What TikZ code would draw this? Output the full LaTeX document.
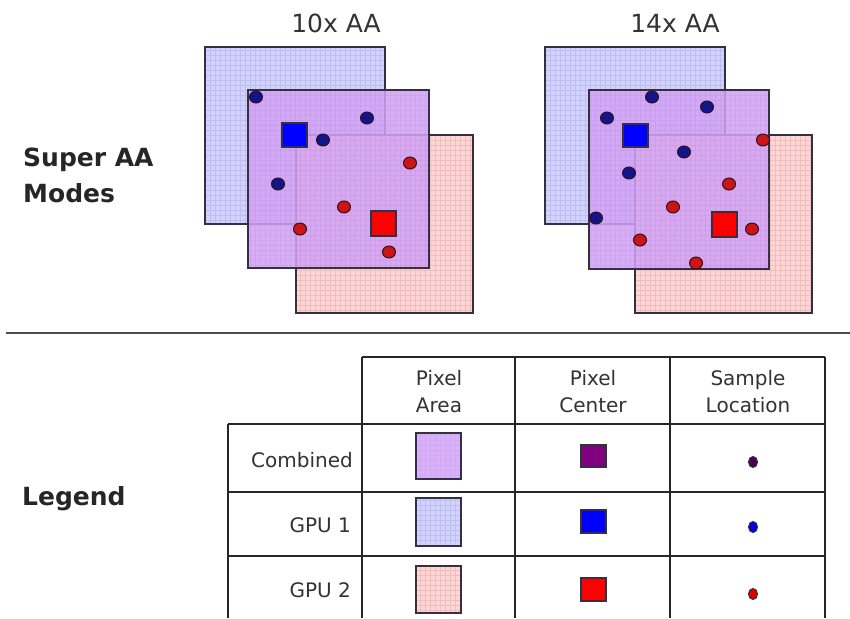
\documentclass[tikz,border=0pt]{standalone}
\usepackage{fontspec}
\setmainfont{DejaVu Sans}
\definecolor{gpuA}{HTML}{D2D2FF}
\definecolor{gpuAgrid}{HTML}{BEBEF2}
\definecolor{gpuB}{HTML}{FFD6D6}
\definecolor{gpuBgrid}{HTML}{F0BCBC}
\definecolor{comb}{HTML}{D2A2F4}
\definecolor{combleg}{HTML}{D8B2F8}
\definecolor{combgrid}{HTML}{C296EA}
\definecolor{edgec}{HTML}{35303F}
\definecolor{dotblue}{HTML}{13138A}
\definecolor{dotred}{HTML}{CC1515}
\definecolor{dotedge}{HTML}{301020}
\definecolor{txt}{HTML}{333333}
\definecolor{ctrpurple}{HTML}{800080}
\tikzset{
  areaedge/.style={draw=edgec, line width=2pt},
  bdot/.style={fill=dotblue, draw=dotedge, line width=1pt},
  rdot/.style={fill=dotred, draw=dotedge, line width=1pt},
  bctr/.style={fill=blue, draw=edgec, line width=1.5pt},
  rctr/.style={fill=red, draw=edgec, line width=1.5pt},
  title/.style={font=\fontsize{25}{30}\selectfont, text=txt, anchor=base, inner sep=0pt},
  bigbold/.style={font=\fontsize{25}{30}\selectfont\bfseries, text=black!85, anchor=base west, inner sep=0pt},
  tabtxt/.style={font=\fontsize{20}{24}\selectfont, text=txt, anchor=base, inner sep=0pt},
  rowtxt/.style={font=\fontsize{20}{24}\selectfont, text=txt, anchor=base east, inner sep=0pt},
  tabline/.style={draw=black!85, line width=1.6pt},
  gridA/.style={draw=gpuAgrid, line width=0.5pt, step=5pt},
  gridB/.style={draw=gpuBgrid, line width=0.5pt, step=5pt},
  gridC/.style={draw=combgrid, line width=0.5pt, step=5pt},
  combfill/.style={fill=comb, opacity=0.85},
}
\begin{document}
\begin{tikzpicture}[x=1pt,y=-1pt]
\useasboundingbox (0,0) rectangle (850,618);
\fill[white] (0,0) rectangle (850,618);

% ---------- panel 10x ----------
\begin{scope}
  \fill[gpuA] (205,47) rectangle (385,224);
  \draw[gridA] (205,47) grid (385,224);
  \draw[areaedge] (205,47) rectangle (385,224);
  \fill[gpuB] (296,135) rectangle (473,313);
  \draw[gridB] (296,135) grid (473,313);
  \draw[areaedge] (296,135) rectangle (473,313);
  \fill[combfill] (248,90) rectangle (429,268);
  \draw[gridC, opacity=0.45] (248,90) grid (429,268);
  \draw[areaedge] (248,90) rectangle (429,268);
  \filldraw[bctr] (282,123) rectangle (307,147);
  \filldraw[rctr] (371,211) rectangle (396,236);
  \foreach \p in {(256,97),(367,118),(323,140),(278,184)}
    \filldraw[bdot] \p circle[x radius=6.5, y radius=6];
  \foreach \p in {(410,163),(344,207),(300,229),(389,252)}
    \filldraw[rdot] \p circle[x radius=6.5, y radius=6];
\end{scope}
\node[title] (t10) at (336,33) {10x AA};

% ---------- panel 14x ----------
\begin{scope}
  \fill[gpuA] (545,47) rectangle (725,224);
  \draw[gridA] (545,47) grid (725,224);
  \draw[areaedge] (545,47) rectangle (725,224);
  \fill[gpuB] (635,135) rectangle (812,313);
  \draw[gridB] (635,135) grid (812,313);
  \draw[areaedge] (635,135) rectangle (812,313);
  \fill[combfill] (589,90) rectangle (769,269);
  \draw[gridC, opacity=0.45] (589,90) grid (769,269);
  \draw[areaedge] (589,90) rectangle (769,269);
  \filldraw[bctr] (623,124) rectangle (648,147);
  \filldraw[rctr] (712,212) rectangle (737,237);
  \foreach \p in {(652,97),(707,107),(607,118),(684,152),(629,173),(596,218)}
    \filldraw[bdot] \p circle[x radius=6.5, y radius=6];
  \foreach \p in {(763,140),(729,184),(673,207),(752,229),(640,240),(696,263)}
    \filldraw[rdot] \p circle[x radius=6.5, y radius=6];
\end{scope}
\node[title] (t14) at (675,33) {14x AA};

% ---------- side labels ----------
\node[bigbold] (super) at (23,166) {Super AA};
\node[bigbold] (modes) at (23,202) {Modes};
\node[bigbold] (legend) at (22,505) {Legend};

% ---------- separator ----------
\draw[draw=black!70, line width=2pt] (6,333) -- (850,333);

% ---------- table ----------
\draw[tabline] (362,357) -- (825,357);
\draw[tabline] (228,424) -- (825,424);
\draw[tabline] (228,492) -- (825,492);
\draw[tabline] (228,556) -- (825,556);
\draw[tabline] (228,424) -- (228,618);
\foreach \x in {362,515,670,825}
  \draw[tabline] (\x,357) -- (\x,618);

\node[tabtxt] (h1a) at (439,385) {Pixel};
\node[tabtxt] (h1b) at (439,412) {Area};
\node[tabtxt] (h2a) at (593,385) {Pixel};
\node[tabtxt] (h2b) at (593,412) {Center};
\node[tabtxt] (h3a) at (748,385) {Sample};
\node[tabtxt] (h3b) at (748,412) {Location};

\node[rowtxt] (r1) at (353,467) {Combined};
\node[rowtxt] (r2) at (351,532) {GPU 1};
\node[rowtxt] (r3) at (351,597) {GPU 2};

% pixel area
\fill[combleg] (416,433) rectangle (461,479);
\draw[gridC, opacity=0.35] (416,433) grid (461,479);
\draw[areaedge] (416,433) rectangle (461,479);
\fill[gpuA] (416,498) rectangle (461,546);
\draw[gridA] (416,498) grid (461,546);
\draw[areaedge] (416,498) rectangle (461,546);
\fill[gpuB] (416,566) rectangle (461,613);
\draw[gridB] (416,566) grid (461,613);
\draw[areaedge] (416,566) rectangle (461,613);

% pixel center
\filldraw[fill=ctrpurple, draw=edgec, line width=1.5pt] (581,445) rectangle (606,467);
\filldraw[bctr] (581,510) rectangle (606,533);
\filldraw[rctr] (581,578) rectangle (606,601);

% sample location
\filldraw[fill=ctrpurple!60!black, draw=black!80, line width=1pt] (753,462) circle[x radius=4.5, y radius=5.5];
\filldraw[fill=blue!85!black, draw=black!80, line width=1pt] (753,527) circle[x radius=4.5, y radius=5.5];
\filldraw[fill=red!85!black, draw=black!80, line width=1pt] (753,594) circle[x radius=4.5, y radius=5.5];
\end{tikzpicture}
\end{document}
